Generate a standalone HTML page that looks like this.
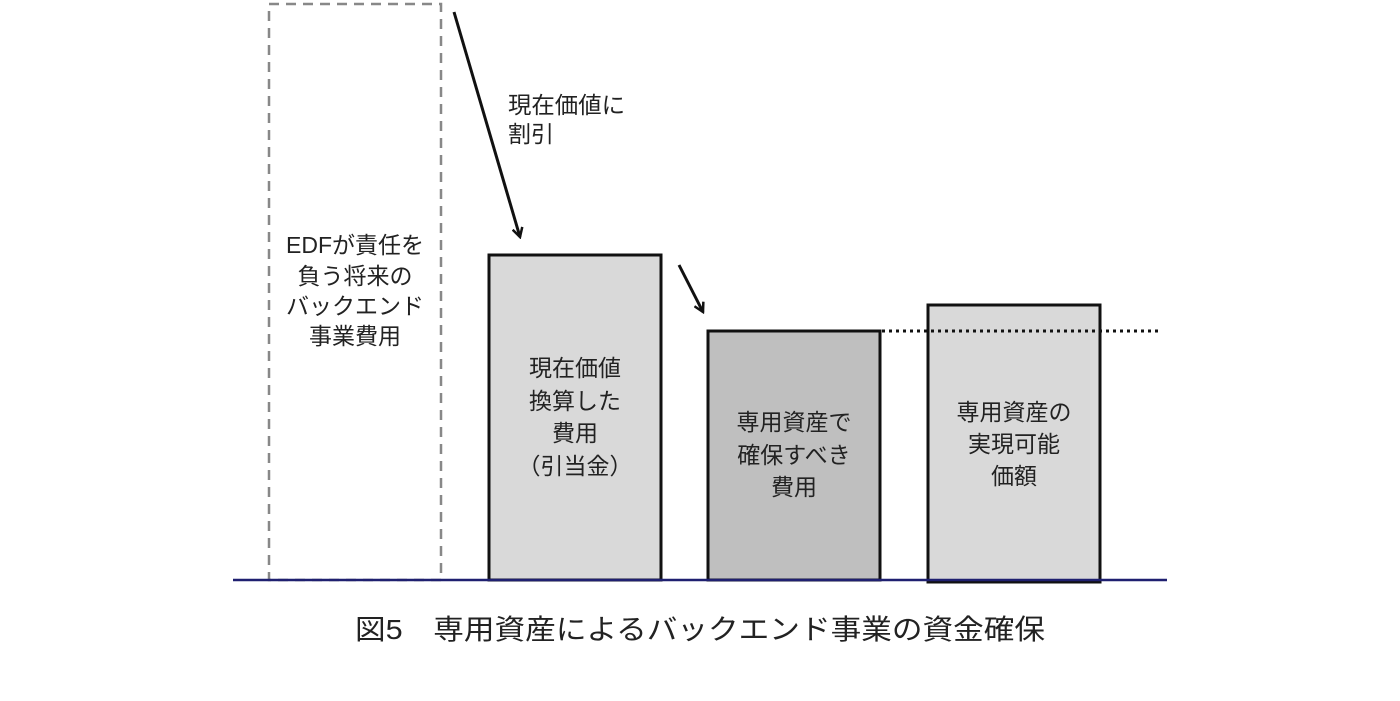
<!DOCTYPE html>
<html><head><meta charset="utf-8"><style>
html,body{margin:0;padding:0;background:#fff;}
svg text{font-family:"Liberation Sans","Noto Sans CJK JP",sans-serif;fill:#222;}
</style></head><body>
<svg width="1400" height="696" viewBox="0 0 1400 696" xmlns="http://www.w3.org/2000/svg">
<defs><marker id="ah" markerWidth="12" markerHeight="12" refX="10" refY="6" orient="auto" markerUnits="userSpaceOnUse"><path d="M1,1 L10,6 L1,11" fill="none" stroke="#111" stroke-width="2.5"/></marker></defs>
<rect x="269" y="4" width="172" height="576" fill="none" stroke="#888" stroke-width="2.5" stroke-dasharray="10,7"/>
<rect x="489" y="255" width="172" height="325" fill="#d9d9d9" stroke="#111" stroke-width="3"/>
<rect x="708" y="331" width="172" height="249" fill="#bfbfbf" stroke="#111" stroke-width="3"/>
<rect x="928" y="305" width="172" height="277" fill="#d9d9d9" stroke="#111" stroke-width="3"/>
<line x1="882" y1="331" x2="1160" y2="331" stroke="#111" stroke-width="3" stroke-dasharray="3,4"/>
<line x1="233" y1="580" x2="1167" y2="580" stroke="#1f2070" stroke-width="2.5"/>
<line x1="454" y1="12" x2="520" y2="237" stroke="#111" stroke-width="3" marker-end="url(#ah)"/>
<line x1="679" y1="265" x2="703" y2="312" stroke="#111" stroke-width="3" marker-end="url(#ah)"/>
<g font-size="23">
<text x="508" y="113" textLength="117" lengthAdjust="spacingAndGlyphs">現在価値に</text>
<text x="508" y="142">割引</text>
</g>
<g font-size="23" text-anchor="middle">
<text x="355" y="253">EDFが責任を</text>
<text x="355" y="284">負う将来の</text>
<text x="355" y="314">バックエンド</text>
<text x="355" y="344">事業費用</text>
<text x="575" y="376">現在価値</text>
<text x="575" y="409">換算した</text>
<text x="575" y="441">費用</text>
<text x="575" y="474">（引当金）</text>
<text x="794" y="430">専用資産で</text>
<text x="794" y="463">確保すべき</text>
<text x="794" y="495">費用</text>
<text x="1014" y="420">専用資産の</text>
<text x="1014" y="452">実現可能</text>
<text x="1014" y="484">価額</text>
</g>
<text x="355" y="639" font-size="28" textLength="690" lengthAdjust="spacingAndGlyphs">図5　専用資産によるバックエンド事業の資金確保</text>
</svg>
</body></html>
